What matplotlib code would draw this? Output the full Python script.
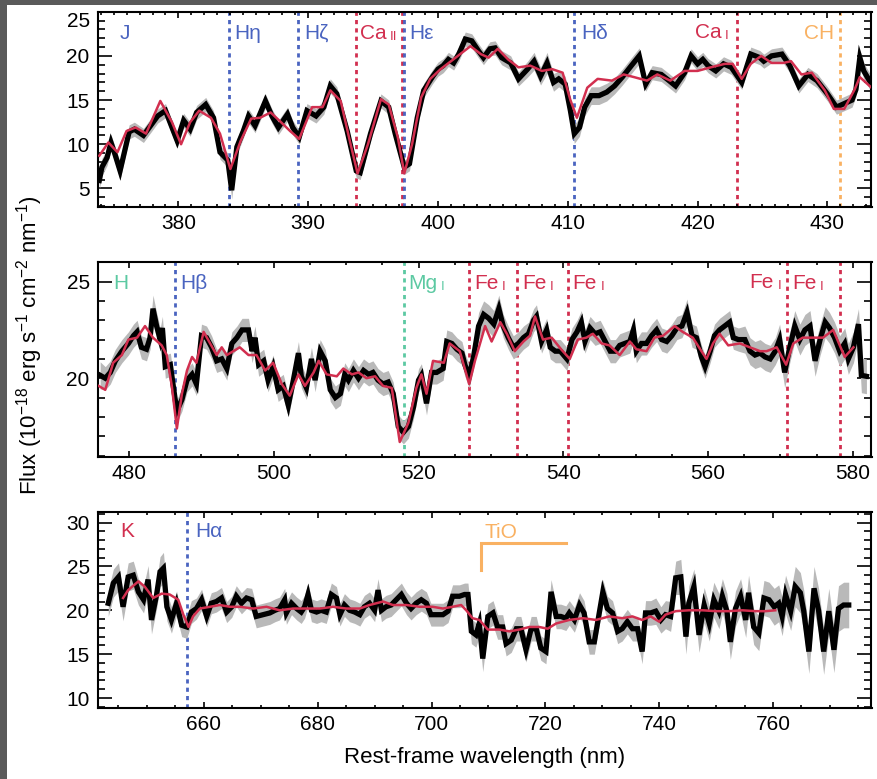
import matplotlib
matplotlib.use("Agg")
import matplotlib.pyplot as plt
from matplotlib.ticker import MultipleLocator
from matplotlib.patches import Rectangle

plt.rcParams['font.family'] = ['Liberation Sans', 'DejaVu Sans']
plt.rcParams['mathtext.fontset'] = 'custom'
plt.rcParams['mathtext.rm'] = 'Liberation Sans'
plt.rcParams['mathtext.default'] = 'regular'

# ---------------- Panel 1 (blue) ----------------
p1_wl = [373.9, 374.1, 374.5, 374.8, 375.1, 375.5, 376.2, 376.6, 377.3, 378.4,
         379.0, 379.9, 380.4, 380.9, 381.4, 382.1, 382.7, 383.2, 383.8, 384.1,
         384.5, 385.0, 385.4, 385.9, 386.7, 387.2, 387.7, 388.4, 388.8, 389.3,
         389.9, 390.6, 391.2, 391.7, 392.2, 393.0, 393.7, 394.0, 394.8, 395.6,
         396.2, 396.7, 397.4, 397.8, 398.4, 398.9, 399.6, 400.0, 400.4, 400.8,
         401.2, 401.6, 402.1, 402.6, 403.1, 403.5, 404.0, 404.4, 404.9, 405.6,
         406.2, 406.9, 407.4, 407.9, 408.4, 408.9, 409.3, 409.8, 410.2, 410.5,
         410.9, 411.3, 411.8, 412.4, 413.0, 413.6, 414.2, 414.9, 415.5, 416.0,
         416.5, 417.2, 417.8, 418.3, 419.0, 419.5, 420.0, 420.4, 420.8, 421.4,
         422.0, 422.6, 423.4, 424.1, 424.8, 425.1, 425.7, 426.5, 427.1, 427.8,
         428.5, 429.2, 430.0, 430.7, 431.3, 431.9, 432.2, 432.5, 432.8, 433.4]
p1_flux = [5.9, 7.4, 8.5, 10.2, 8.9, 7.0, 11.4, 11.7, 11.0, 13.2,
           13.8, 10.4, 12.7, 11.7, 13.6, 14.5, 13.0, 9.1, 8.2, 4.8,
           9.7, 11.5, 13.2, 12.1, 14.9, 13.2, 11.9, 13.4, 11.9, 10.8,
           13.8, 13.2, 14.2, 16.6, 15.7, 11.5, 7.0, 6.8, 11.2, 14.9,
           14.2, 11.2, 7.4, 7.8, 13.0, 16.1, 17.7, 18.5, 18.9, 19.6,
           19.2, 20.2, 21.9, 21.7, 20.6, 19.8, 20.8, 20.9, 19.8, 19.2,
           17.4, 18.5, 19.4, 17.7, 19.2, 17.0, 17.4, 16.8, 13.8, 11.2,
           11.9, 14.2, 15.5, 15.5, 15.9, 16.6, 17.6, 18.9, 20.0, 16.8,
           18.1, 17.9, 17.2, 16.6, 18.1, 20.0, 19.1, 19.6, 18.9, 18.3,
           19.1, 18.7, 17.0, 20.2, 19.8, 19.4, 20.0, 20.2, 18.9, 16.6,
           17.9, 17.2, 15.7, 14.2, 14.6, 15.0, 16.2, 19.8, 18.3, 16.8]
p1_err = [1.0, 1.0, 0.9, 0.9, 0.9, 1.0, 0.8, 0.8, 0.8, 0.8,
          0.8, 0.8, 0.8, 0.8, 0.8, 0.8, 0.8, 0.8, 0.8, 1.0,
          0.9, 0.8, 0.8, 0.8, 0.8, 0.8, 0.8, 0.8, 0.8, 0.8,
          0.8, 0.8, 0.8, 0.8, 0.8, 0.8, 0.8, 0.8, 0.8, 0.8,
          0.8, 0.8, 0.8, 0.8, 0.8, 0.8, 0.8, 0.8, 0.8, 0.8,
          0.8, 0.8, 0.8, 0.8, 0.8, 0.8, 0.8, 0.8, 0.8, 0.8,
          0.8, 0.9, 1.0, 1.0, 1.2, 1.0, 0.9, 0.9, 1.0, 1.1,
          1.0, 1.0, 1.0, 1.0, 1.0, 0.9, 0.9, 0.9, 0.9, 0.8,
          0.8, 0.8, 0.8, 0.8, 0.8, 0.8, 0.8, 0.8, 0.8, 0.8,
          0.8, 0.8, 0.8, 0.8, 0.8, 0.8, 0.8, 0.8, 0.8, 0.8,
          0.8, 0.8, 0.8, 0.8, 0.8, 0.8, 0.8, 0.9, 0.9, 0.9]
p1_model_wl = [373.9, 374.6, 375.3, 376.0, 376.7, 377.5, 378.6, 379.5, 380.2, 380.9,
               381.6, 382.5, 383.2, 384.0, 384.8, 385.6, 386.3, 387.1, 387.9, 388.6,
               389.3, 390.3, 391.1, 391.7, 392.5, 393.2, 393.8, 394.6, 395.6, 396.2,
               396.9, 397.4, 398.0, 398.7, 399.4, 400.2, 401.0, 402.5, 403.3, 403.9,
               404.6, 405.4, 406.2, 407.1, 408.0, 408.8, 409.6, 410.2, 410.7, 411.5,
               412.3, 413.4, 414.3, 415.1, 416.1, 416.9, 417.9, 419.0, 420.0, 421.0,
               422.1, 422.7, 423.4, 424.1, 424.9, 425.7, 426.6, 427.2, 428.0, 428.8,
               429.8, 430.5, 431.3, 432.1, 432.5, 433.4]
p1_model = [8.7, 10.2, 9.1, 11.5, 11.9, 11.2, 14.9, 12.5, 10.0, 12.5,
            13.8, 13.0, 11.2, 7.2, 10.4, 12.9, 13.0, 13.6, 12.5, 11.5,
            10.6, 14.2, 14.2, 16.1, 14.9, 10.4, 6.7, 10.0, 15.1, 14.5,
            10.8, 6.7, 10.0, 15.3, 17.4, 18.5, 19.4, 21.1, 20.2, 19.8,
            20.8, 19.6, 18.7, 18.9, 18.3, 18.5, 18.1, 15.0, 13.0, 16.4,
            17.4, 17.2, 17.9, 17.6, 17.2, 17.9, 17.2, 18.3, 18.3, 18.7,
            19.1, 19.1, 17.4, 19.1, 20.0, 19.2, 19.2, 19.4, 17.9, 18.1,
            16.1, 14.0, 14.0, 16.2, 17.6, 16.4]

# ---------------- Panel 2 (visible) ----------------
p2_wl = [476.0, 476.7, 477.4, 478.1, 479.0, 479.9, 480.6, 481.1, 481.7, 482.4,
         482.9, 483.3, 483.8, 484.3, 484.6, 485.0, 485.7, 486.1, 486.6, 487.3,
         488.0, 488.7, 489.3, 490.0, 490.7, 491.4, 492.1, 492.8, 493.5, 494.2,
         494.9, 495.6, 496.5, 497.0, 497.4, 497.9, 498.6, 499.2, 499.9, 500.6,
         501.3, 502.0, 502.7, 503.4, 503.8, 504.5, 505.2, 505.7, 506.4, 507.1,
         507.8, 508.5, 509.2, 509.8, 510.3, 511.0, 511.7, 512.4, 513.1, 513.7,
         514.4, 515.1, 515.8, 516.5, 517.2, 517.9, 518.6, 519.3, 520.0, 520.4,
         521.1, 521.8, 522.5, 523.4, 523.9, 524.6, 525.3, 526.0, 526.4, 527.0,
         527.6, 528.3, 529.0, 529.7, 530.4, 531.1, 531.7, 532.4, 533.1, 533.8,
         534.5, 535.2, 535.9, 536.3, 537.0, 537.7, 538.2, 538.9, 539.6, 540.5,
         541.2, 541.9, 542.5, 543.0, 543.7, 544.4, 545.1, 545.8, 546.5, 547.2,
         547.8, 548.5, 549.2, 549.7, 550.1, 550.8, 551.5, 552.2, 552.9, 553.6,
         554.3, 555.0, 555.7, 556.4, 557.1, 557.8, 558.4, 559.1, 559.6, 560.3,
         560.9, 561.6, 562.3, 563.0, 563.5, 564.2, 565.1, 565.8, 566.5, 567.2,
         567.9, 568.6, 569.3, 569.9, 570.6, 571.3, 572.0, 572.7, 573.4, 574.1,
         574.8, 575.5, 576.2, 576.8, 577.5, 578.2, 578.9, 579.4, 580.1, 580.8,
         581.2, 581.9]
p2_flux = [20.15, 20.0, 20.3, 20.9, 21.4, 21.8, 22.2, 22.4, 21.6, 21.5,
           22.1, 23.6, 22.7, 22.0, 22.6, 20.6, 20.7, 19.6, 18.3, 18.9,
           19.9, 20.2, 19.7, 22.2, 22.1, 21.6, 20.9, 21.0, 20.5, 21.8,
           22.1, 22.5, 22.5, 21.4, 22.1, 20.7, 20.9, 19.9, 20.6, 19.4,
           19.6, 18.6, 19.9, 21.3, 20.1, 19.5, 21.0, 19.9, 21.4, 20.9,
           19.4, 19.0, 19.2, 20.2, 19.9, 20.4, 20.0, 20.4, 20.2, 20.3,
           19.9, 19.7, 19.8, 19.2, 17.5, 17.2, 17.5, 18.5, 19.9, 20.15,
           18.7, 20.3, 20.3, 20.5, 21.9, 21.8, 21.5, 21.3, 20.7, 20.1,
           21.1, 22.7, 23.3, 23.1, 22.8, 23.6, 22.7, 22.1, 21.6, 21.8,
           22.1, 22.3, 23.0, 23.2, 21.9, 22.5, 21.6, 21.4, 21.4, 21.0,
           22.0, 22.4, 22.9, 21.9, 22.6, 22.3, 22.4, 21.9, 21.4, 21.4,
           21.7, 21.8, 21.9, 22.5, 21.4, 21.8, 21.8, 22.2, 22.5, 22.0,
           21.9, 22.2, 22.6, 22.7, 23.4, 22.2, 22.1, 21.1, 20.6, 21.4,
           22.2, 22.5, 22.7, 22.9, 22.1, 22.0, 22.0, 21.4, 21.2, 21.3,
           21.1, 21.0, 21.4, 22.0, 20.3, 21.6, 22.7, 22.0, 22.5, 22.7,
           20.9, 22.0, 22.9, 22.6, 22.1, 21.4, 21.8, 21.0, 21.6, 22.8,
           20.15, 20.1]
p2_err = [0.7, 0.6, 0.6, 0.6, 0.6, 0.6, 0.6, 0.6, 0.6, 0.6,
          0.6, 0.7, 0.7, 0.6, 0.6, 0.6, 0.6, 0.6, 0.6, 0.6,
          0.6, 0.6, 0.6, 0.6, 0.6, 0.6, 0.6, 0.6, 0.6, 0.6,
          0.6, 0.6, 0.6, 0.6, 0.6, 0.6, 0.6, 0.6, 0.6, 0.6,
          0.6, 0.6, 0.6, 0.6, 0.6, 0.6, 0.6, 0.6, 0.6, 0.6,
          0.6, 0.6, 0.6, 0.6, 0.6, 0.6, 0.6, 0.6, 0.6, 0.6,
          0.6, 0.6, 0.6, 0.6, 0.6, 0.6, 0.6, 0.6, 0.6, 0.6,
          0.6, 0.6, 0.6, 0.6, 0.6, 0.6, 0.6, 0.6, 0.6, 0.6,
          0.6, 0.7, 0.7, 0.7, 0.7, 0.7, 0.6, 0.6, 0.6, 0.6,
          0.6, 0.6, 0.6, 0.6, 0.6, 0.6, 0.6, 0.6, 0.6, 0.6,
          0.6, 0.6, 0.6, 0.6, 0.6, 0.6, 0.6, 0.6, 0.6, 0.6,
          0.6, 0.6, 0.6, 0.6, 0.6, 0.6, 0.6, 0.6, 0.6, 0.6,
          0.6, 0.6, 0.6, 0.6, 0.7, 0.6, 0.6, 0.6, 0.6, 0.6,
          0.6, 0.6, 0.6, 0.6, 0.6, 0.6, 0.7, 0.7, 0.7, 0.7,
          0.7, 0.7, 0.7, 0.8, 0.8, 0.8, 0.8, 0.8, 0.8, 0.8,
          0.8, 0.8, 0.8, 0.8, 0.8, 0.8, 0.8, 0.8, 0.8, 0.8,
          0.9, 0.9]
p2_model_wl = [475.8, 476.7, 477.8, 479.0, 479.9, 481.1, 482.2, 483.3, 484.5, 485.2,
               485.9, 486.6, 487.3, 488.0, 488.7, 489.3, 490.3, 491.2, 492.1, 492.8,
               493.5, 494.4, 495.3, 496.5, 497.6, 498.8, 499.9, 501.1, 502.2, 503.4,
               504.3, 505.5, 506.2, 507.3, 508.7, 509.6, 510.8, 511.7, 512.8, 514.0,
               515.1, 516.3, 517.4, 518.6, 519.7, 520.4, 521.1, 522.0, 523.5, 524.3,
               525.7, 527.0, 527.8, 529.2, 530.1, 531.3, 532.2, 533.3, 534.5, 535.4,
               536.1, 537.2, 538.4, 539.7, 540.9, 542.0, 543.2, 544.1, 545.3, 546.4,
               547.8, 549.2, 550.1, 551.5, 552.6, 553.8, 555.4, 556.5, 557.9, 559.1,
               559.8, 560.7, 561.6, 562.8, 564.4, 565.8, 567.2, 568.1, 569.5, 570.8,
               571.8, 573.1, 574.5, 575.9, 577.3, 578.9, 580.1]
p2_model = [19.6, 19.4, 20.8, 21.2, 22.0, 22.1, 22.7, 22.1, 21.7, 21.2,
            19.6, 17.4, 19.2, 20.4, 21.1, 20.8, 22.4, 21.8, 21.2, 21.6,
            21.2, 21.4, 21.6, 21.2, 21.2, 20.4, 20.8, 19.7, 19.1, 20.2,
            19.6, 20.3, 20.9, 20.2, 20.1, 20.5, 20.2, 20.3, 20.0, 20.1,
            19.6, 19.5, 16.7, 17.7, 19.5, 20.2, 19.2, 20.9, 20.8, 21.8,
            21.4, 19.7, 20.9, 22.7, 21.9, 22.9, 22.3, 21.4, 21.9, 22.2,
            23.2, 22.0, 22.1, 21.5, 21.0, 22.0, 22.1, 22.3, 21.8, 21.7,
            21.2, 21.9, 21.5, 21.4, 22.1, 22.2, 22.7, 22.4, 22.1, 21.4,
            21.0, 21.8, 22.3, 21.7, 21.8, 21.6, 21.4, 21.4, 21.6, 20.7,
            21.8, 22.1, 22.1, 22.1, 22.5, 21.1, 21.6]

# ---------------- Panel 3 (red) ----------------
p3_wl = [643.2, 644.1, 645.0, 645.8, 646.7, 647.6, 648.5, 649.4, 650.2, 650.8,
         651.7, 652.3, 652.9, 653.5, 654.3, 655.2, 656.1, 657.0, 657.8, 658.7,
         659.6, 660.5, 661.3, 662.2, 663.1, 664.0, 664.9, 665.7, 666.6, 667.5,
         668.4, 669.2, 670.4, 671.6, 672.5, 673.3, 674.2, 674.5, 675.4, 676.3,
         677.1, 677.7, 678.3, 678.9, 679.8, 680.6, 681.5, 682.4, 683.3, 683.9,
         684.7, 685.6, 686.5, 687.4, 688.2, 689.1, 690.0, 690.6, 691.2, 692.0,
         692.9, 693.8, 694.7, 695.6, 696.4, 697.3, 698.2, 699.1, 699.9, 700.8,
         702.0, 702.9, 703.7, 704.9, 705.8, 706.4, 707.0, 707.8, 708.4, 709.0,
         709.9, 710.8, 711.6, 712.5, 713.1, 714.0, 714.9, 715.7, 716.6, 717.5,
         718.4, 719.2, 720.1, 721.0, 721.9, 722.7, 723.6, 724.2, 725.1, 726.0,
         726.8, 727.7, 728.6, 729.2, 730.1, 730.9, 731.8, 732.7, 733.5, 734.4,
         735.3, 736.2, 737.0, 737.6, 738.5, 739.4, 740.3, 741.1, 742.0, 742.9,
         743.8, 744.7, 745.2, 746.1, 747.0, 747.9, 748.8, 749.6, 750.5, 751.1,
         751.9, 752.5, 753.4, 754.3, 755.2, 755.7, 756.6, 757.5, 758.4, 759.3,
         760.2, 761.0, 761.6, 762.2, 763.1, 763.9, 764.8, 765.4, 766.3, 767.2,
         768.0, 768.9, 769.8, 770.7, 771.5, 772.4, 773.3]
p3_flux = [20.8, 23.1, 23.8, 20.4, 23.8, 24.0, 22.1, 21.2, 23.5, 18.9,
           21.8, 24.4, 24.8, 20.4, 18.9, 20.8, 18.3, 18.1, 19.8, 20.2,
           21.2, 19.3, 20.8, 21.0, 21.4, 19.8, 20.4, 21.6, 20.8, 21.4,
           21.2, 19.3, 19.5, 19.7, 20.0, 20.2, 21.2, 19.7, 20.8, 20.2,
           19.8, 20.4, 21.8, 20.0, 19.8, 20.0, 19.8, 21.8, 21.4, 19.5,
           20.6, 20.0, 19.8, 19.5, 20.4, 20.8, 20.0, 22.3, 20.0, 20.4,
           20.6, 21.2, 21.8, 20.8, 20.2, 20.8, 21.2, 20.8, 19.5, 19.5,
           19.5, 19.9, 21.6, 21.6, 21.8, 21.8, 17.6, 17.2, 18.5, 14.5,
           19.3, 19.7, 18.1, 18.1, 16.2, 16.6, 17.9, 17.9, 15.5, 17.9,
           17.9, 15.7, 15.3, 22.1, 19.3, 19.3, 19.1, 19.7, 18.9, 20.6,
           19.7, 16.4, 16.4, 18.7, 22.1, 20.2, 19.7, 17.6, 17.9, 18.7,
           17.9, 17.9, 15.3, 19.7, 19.7, 19.9, 18.9, 19.5, 19.3, 23.7,
           23.8, 17.0, 20.8, 22.7, 17.2, 20.6, 18.5, 21.2, 19.9, 21.6,
           19.9, 16.4, 20.2, 21.6, 18.9, 22.0, 18.1, 17.4, 21.4, 21.2,
           20.4, 20.8, 19.3, 21.8, 19.9, 22.7, 22.0, 19.9, 15.3, 22.5,
           20.0, 15.3, 19.9, 15.5, 20.2, 20.6, 20.6]
p3_err = [1.5, 1.6, 1.6, 1.6, 1.6, 1.6, 1.5, 1.5, 1.6, 1.6,
          1.6, 1.7, 1.8, 1.6, 1.5, 1.4, 1.3, 1.3, 1.3, 1.2,
          1.2, 1.2, 1.2, 1.2, 1.2, 1.2, 1.2, 1.2, 1.2, 1.2,
          1.3, 1.3, 1.3, 1.3, 1.3, 1.3, 1.3, 1.3, 1.3, 1.3,
          1.3, 1.3, 1.3, 1.3, 1.3, 1.3, 1.3, 1.3, 1.3, 1.3,
          1.3, 1.3, 1.3, 1.3, 1.3, 1.3, 1.3, 1.3, 1.3, 1.3,
          1.3, 1.3, 1.3, 1.3, 1.3, 1.3, 1.3, 1.3, 1.3, 1.3,
          1.3, 1.3, 1.3, 1.3, 1.3, 1.3, 1.4, 1.4, 1.4, 1.5,
          1.4, 1.4, 1.4, 1.4, 1.4, 1.4, 1.4, 1.4, 1.4, 1.4,
          1.4, 1.4, 1.4, 1.4, 1.4, 1.4, 1.4, 1.4, 1.4, 1.4,
          1.4, 1.4, 1.4, 1.4, 1.4, 1.4, 1.4, 1.4, 1.4, 1.4,
          1.4, 1.4, 1.4, 1.4, 1.4, 1.5, 1.5, 1.6, 1.7, 1.9,
          2.0, 2.0, 2.0, 2.0, 2.0, 2.0, 2.0, 2.0, 2.0, 2.0,
          2.0, 2.0, 2.0, 2.0, 2.0, 2.0, 2.0, 2.0, 2.0, 2.0,
          2.1, 2.1, 2.2, 2.2, 2.2, 2.3, 2.3, 2.4, 2.5, 2.5,
          2.5, 2.6, 2.6, 2.6, 2.6, 2.6, 2.6]
p3_model_wl = [645.8, 646.7, 648.5, 649.6, 651.1, 652.6, 654.0, 655.5, 656.4, 657.3,
               658.1, 659.3, 661.1, 662.8, 664.6, 666.3, 668.7, 671.0, 673.3, 675.7,
               678.0, 680.4, 682.7, 685.0, 687.4, 689.1, 691.5, 693.2, 695.6, 697.9,
               700.2, 702.0, 703.7, 705.2, 706.1, 707.2, 708.4, 709.9, 711.9, 713.7,
               715.4, 717.2, 718.9, 720.4, 721.9, 724.2, 726.6, 728.9, 731.2, 733.5,
               735.3, 737.0, 738.5, 740.0, 741.1, 742.9, 745.2, 747.6, 749.9, 752.2,
               754.6, 756.9, 758.7, 760.4]
p3_model = [21.4, 22.3, 23.3, 22.7, 21.4, 21.9, 21.8, 21.2, 19.5, 18.1,
            19.3, 20.2, 20.4, 20.6, 20.4, 20.4, 20.2, 20.4, 20.0, 20.2,
            20.2, 20.2, 20.4, 20.2, 20.2, 20.6, 21.0, 20.6, 20.6, 20.4,
            20.4, 20.2, 20.4, 20.6, 20.0, 19.1, 18.9, 17.8, 17.8, 17.6,
            17.8, 18.1, 18.1, 17.9, 18.5, 18.9, 19.1, 18.9, 19.3, 19.1,
            19.3, 18.9, 19.3, 18.7, 19.5, 19.9, 20.0, 20.0, 19.9, 19.9,
            20.0, 19.9, 19.9, 20.0]

# ---------------- line identifications ----------------
BLUE = '#4a64c0'
RED = '#d22f4f'
GREEN = '#5cc9a2'
ORANGE = '#f9b162'

p1_lines = [383.9, 389.2, 393.7, 397.2, 397.35, 410.5, 423.0, 431.0]
p1_line_colors = [BLUE, BLUE, RED, RED, BLUE, BLUE, RED, ORANGE]
p2_lines = [486.4, 518.0, 527.0, 533.6, 540.6, 570.9, 578.2]
p2_line_colors = [BLUE, GREEN, RED, RED, RED, RED, RED]
p3_lines = [657.0]
p3_line_colors = [BLUE]

tio_wl = [708.7, 708.7, 723.6]
tio_y = [24.6, 27.7, 27.7]

W, H = 878, 779
fig = plt.figure(figsize=(W / 100, H / 100), dpi=100)

# dark frame strips at left and top (as in the reference screenshot)
fig.patches.append(Rectangle((0, 0), 7 / W, 1, transform=fig.transFigure,
                             facecolor='#5a5a5a', edgecolor='none', zorder=0))
fig.patches.append(Rectangle((0, 1 - 5 / H), 1, 5 / H, transform=fig.transFigure,
                             facecolor='#5a5a5a', edgecolor='none', zorder=0))

left = 98 / W
width = (871.5 - 98) / W
def axrect(top_px, bot_px):
    return [left, 1 - bot_px / H, width, (bot_px - top_px) / H]

ax1 = fig.add_axes(axrect(11.7, 207))
ax2 = fig.add_axes(axrect(261.7, 456.7))
ax3 = fig.add_axes(axrect(512, 707.7))

FS = 15

def style(ax, xlim, ylim, xmaj, xmin, ymaj, ymin):
    ax.set_xlim(*xlim)
    ax.set_ylim(*ylim)
    ax.xaxis.set_major_locator(MultipleLocator(xmaj))
    ax.xaxis.set_minor_locator(MultipleLocator(xmin))
    ax.yaxis.set_major_locator(MultipleLocator(ymaj))
    ax.yaxis.set_minor_locator(MultipleLocator(ymin))
    ax.tick_params(axis='both', which='both', direction='in', top=True, right=True,
                   labelsize=FS, width=1.2, colors='black')
    ax.tick_params(axis='y', which='major', length=10, pad=6)
    ax.tick_params(axis='y', which='minor', length=5)
    ax.tick_params(axis='x', which='major', length=4, pad=5)
    ax.tick_params(axis='x', which='minor', length=2.5)
    for s in ax.spines.values():
        s.set_linewidth(1.5)

def draw(ax, wl, fl, er, mwl, mfl, lines, lcols):
    for x, c in zip(lines, lcols):
        ax.axvline(x, color=c, lw=2.0, ls=(0, (1.5, 1.5)), zorder=1)
    lo = [f - e for f, e in zip(fl, er)]
    hi = [f + e for f, e in zip(fl, er)]
    ax.fill_between(wl, lo, hi, color='#b9b9b9', lw=0, zorder=2)
    ax.plot(wl, fl, color='black', lw=3.8, zorder=3, solid_joinstyle='miter')
    ax.plot(mwl, mfl, color=RED, lw=1.8, zorder=4)

draw(ax1, p1_wl, p1_flux, p1_err, p1_model_wl, p1_model, p1_lines, p1_line_colors)
draw(ax2, p2_wl, p2_flux, p2_err, p2_model_wl, p2_model, p2_lines, p2_line_colors)
draw(ax3, p3_wl, p3_flux, p3_err, p3_model_wl, p3_model, p3_lines, p3_line_colors)

style(ax1, (373.8, 433.4), (2.9, 25.0), 10, 1, 5, 1)
style(ax2, (475.7, 582.6), (15.94, 26.03), 20, 5, 5, 1)
style(ax3, (641.4, 777.3), (8.9, 31.2), 20, 5, 5, 1)

# make the top "25" label of panel 1 sit inside the axes height
fig.canvas.draw()
for lab in ax1.get_yticklabels():
    if lab.get_text() == '25':
        lab.set_va('top')

LFS = 15
SFS = 9.5

def lab(ax, x, y, s, c, ha='left'):
    ax.text(x, y, s, color=c, fontsize=LFS, ha=ha, va='baseline', zorder=6)

def ion_left(ax, x, y, elem, ion, c):
    t = ax.text(x, y, elem, color=c, fontsize=LFS, ha='left', va='baseline', zorder=6)
    ax.annotate(ion, xy=(1, 0), xycoords=t, xytext=(2.5, 0), textcoords='offset points',
                color=c, fontsize=SFS, ha='left', va='bottom', zorder=6)

def ion_right(ax, x, y, elem, ion, c):
    t = ax.text(x, y, ion, color=c, fontsize=SFS, ha='right', va='baseline', zorder=6)
    ax.annotate(elem, xy=(0, 0), xycoords=t, xytext=(-2.5, 0), textcoords='offset points',
                color=c, fontsize=LFS, ha='right', va='bottom', zorder=6)

# Panel 1 labels
y1 = 21.9
lab(ax1, 375.5, y1, 'J', BLUE)
lab(ax1, 384.3, y1, 'H\u03b7', BLUE)
lab(ax1, 389.7, y1, 'H\u03b6', BLUE)
ion_left(ax1, 393.95, y1, 'Ca', 'II', RED)
lab(ax1, 397.8, y1, 'H\u03b5', BLUE)
lab(ax1, 411.0, y1, 'H\u03b4', BLUE)
ion_right(ax1, 422.4, y1, 'Ca', 'I', RED)
lab(ax1, 430.5, y1, 'CH', ORANGE, ha='right')

# Panel 2 labels
y2 = 24.64
lab(ax2, 477.8, y2, 'H', GREEN)
lab(ax2, 487.0, y2, 'H\u03b2', BLUE)
ion_left(ax2, 518.6, y2, 'Mg', 'I', GREEN)
for x in [527.7, 534.3, 541.3, 571.6]:
    ion_left(ax2, x, y2, 'Fe', 'I', RED)
ion_right(ax2, 570.1, y2, 'Fe', 'I', RED)

# Panel 3 labels
y3 = 28.3
lab(ax3, 645.3, y3, 'K', RED)
lab(ax3, 658.4, y3, 'H\u03b1', BLUE)
ax3.plot(tio_wl, tio_y, color=ORANGE, lw=2.2, zorder=6, solid_joinstyle='miter')
lab(ax3, 709.3, 28.25, 'TiO', ORANGE)

fig.text(30 / W, 1 - 345 / H,
         'Flux (10$^{-18}$ erg s$^{-1}$ cm$^{-2}$ nm$^{-1}$)',
         rotation=90, ha='center', va='center', fontsize=16)
fig.text(485 / W, 1 - 758 / H, 'Rest-frame wavelength (nm)',
         ha='center', va='center', fontsize=16)

fig.savefig('out.png', dpi=100)
